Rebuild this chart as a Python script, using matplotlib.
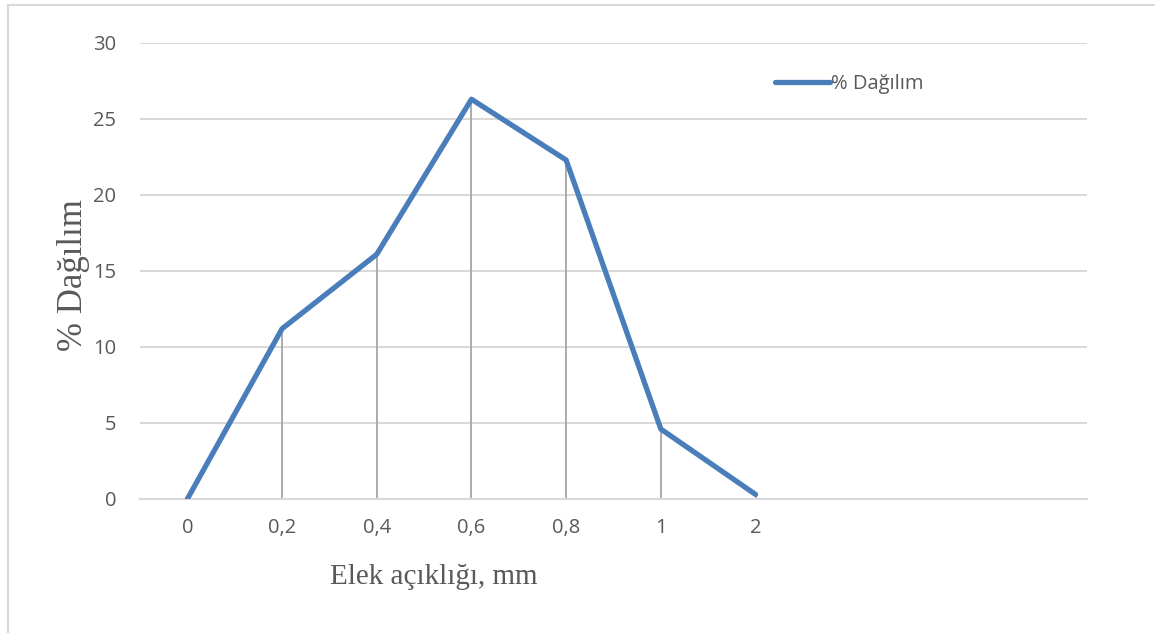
import matplotlib
matplotlib.use("Agg")
import matplotlib.pyplot as plt
from matplotlib.lines import Line2D

categories = ['0', '0,2', '0,4', '0,6', '0,8', '1', '2']
values = [0.0, 11.2, 16.1, 26.3, 22.3, 4.6, 0.3]
n_slots = 10
yticks = [0, 5, 10, 15, 20, 25, 30]

line_color = '#4A7EBB'
text_color = '#595959'
grid_color = '#D9D9D9'

W, H = 1155, 633
fig = plt.figure(figsize=(W/100, H/100), dpi=100)
ax = fig.add_axes([140/W, 1-499/H, (1087-140)/W, (499-43)/H])

x = list(range(len(categories)))
ax.set_xlim(-0.5, n_slots - 0.5)
ax.set_ylim(0, 30)
ax.set_yticks(yticks)
ax.set_yticklabels([str(t) for t in yticks])
ax.set_xticks(x)
ax.set_xticklabels(categories)
ax.yaxis.grid(True, color=grid_color, linewidth=1.5)
ax.set_axisbelow(True)
for s in ['top', 'right', 'left']:
    ax.spines[s].set_visible(False)
ax.spines['bottom'].set_color(grid_color)
ax.spines['bottom'].set_linewidth(1.5)
ax.tick_params(length=0, labelsize=14.5, labelcolor=text_color)
ax.tick_params(axis='x', pad=14)
ax.tick_params(axis='y', pad=17)
for lab in ax.get_xticklabels() + ax.get_yticklabels():
    lab.set_family('Open Sans')

ax.vlines(x, 0, values, color='#A6A6A6', linewidth=1.3, zorder=2)
ax.plot(x, values, color=line_color, linewidth=3.8, solid_joinstyle='round',
        solid_capstyle='round', zorder=3, label='% Dağılım')

fig.text(434/W, 1-577/H, 'Elek açıklığı, mm', family='Liberation Serif',
         fontsize=21, color=text_color, ha='center', va='center')
fig.text(74/W, 1-275/H, '% Dağılım', family='Liberation Serif', fontsize=25,
         color=text_color, ha='center', va='center', rotation=90)

leg = ax.legend(loc='upper left', bbox_to_anchor=((767-140)/(1087-140), 0.95),
                frameon=False, handlelength=2.75, handletextpad=0.05,
                borderaxespad=0, prop={'family': 'Open Sans', 'size': 14.5})
for t in leg.get_texts():
    t.set_color(text_color)

# chart frame
fig.add_artist(Line2D([8/W, 8/W], [0, 1-5/H], transform=fig.transFigure,
                      color=grid_color, linewidth=1.5))
fig.add_artist(Line2D([8/W, 1], [1-5/H, 1-5/H], transform=fig.transFigure,
                      color=grid_color, linewidth=1.5))

fig.savefig('out.png', dpi=100)
